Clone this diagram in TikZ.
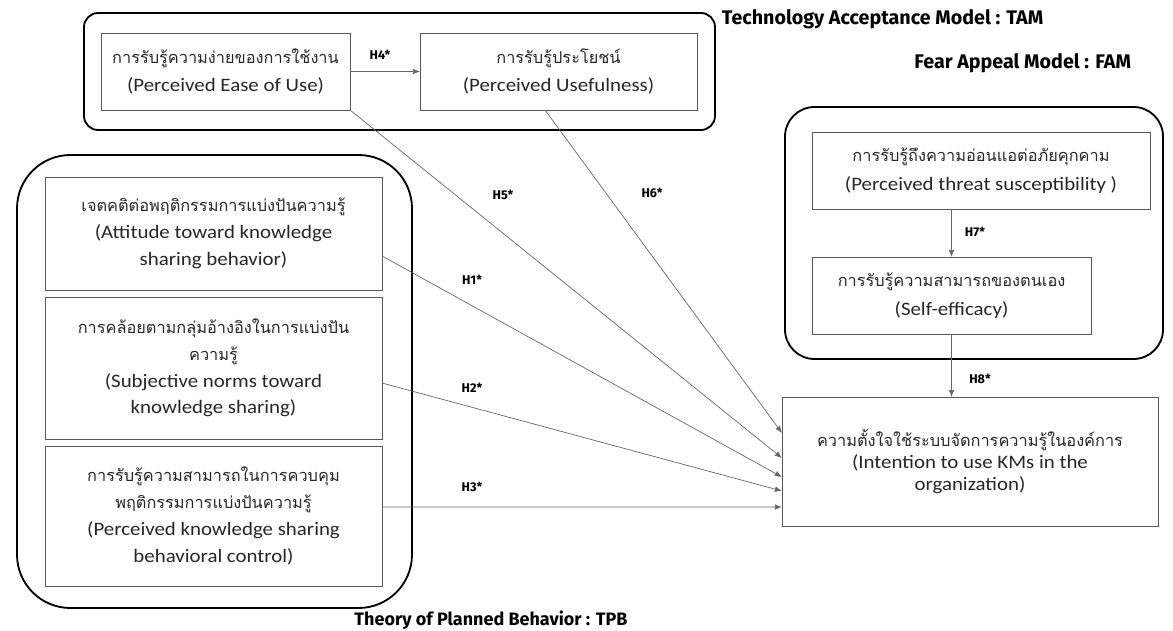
\documentclass[tikz,border=0pt]{standalone}
\usepackage{fontspec}
\setmainfont{Carlito}[FakeStretch=1.1]
\newfontfamily\thaifont[Script=Thai,Scale=0.86]{Loma}
\newfontfamily\labfont{Fira Sans}
\usetikzlibrary{arrows.meta}

\tikzset{
  cbox/.style={draw=black!65, line width=0.6pt, align=center, text=black!85,
    font=\fontsize{13.5}{20.5}\selectfont, inner sep=2pt, outer sep=0pt},
  cframe/.style={draw, line width=1.3pt},
  hlab/.style={font=\labfont\bfseries\fontsize{9}{10}\selectfont},
  mlab/.style={font=\labfont\bfseries\fontsize{14}{16}\selectfont},
  harrow/.style={->, draw=black!60, line width=0.5pt},
  >={Latex[length=5pt,width=4pt]}
}

\begin{document}
\begin{tikzpicture}[x=0.025cm,y=-0.025cm]
\useasboundingbox (0,0) rectangle (1173,631);

% model frames
\path[draw,cframe,rounded corners=10pt] (84,13) rectangle (715,130);
\path[draw,cframe,rounded corners=21pt] (785,107) rectangle (1163,359);
\path[draw,cframe,rounded corners=38pt] (17,155) rectangle (412,608);

\node[mlab,anchor=west] (tam) at (717,19) {Technology Acceptance Model : TAM};
\node[mlab,anchor=east] (fam) at (1136,63) {Fear Appeal Model : FAM};
\node[mlab,font=\labfont\bfseries\fontsize{12.8}{15}\selectfont] (tpb) at (491,620) {Theory of Planned Behavior : TPB};

% constructs
\node[cbox,minimum width=6.225cm,minimum height=1.925cm] (peou) at (225.5,71.5)
  {{\thaifont การรับรู้ความง่ายของการใช้งาน}\\(Perceived Ease of Use)};
\node[cbox,minimum width=6.925cm,minimum height=1.925cm] (pu) at (558.5,71.5)
  {{\thaifont การรับรู้ประโยชน์}\\(Perceived Usefulness)};
\node[cbox,minimum width=8.45cm,minimum height=1.925cm] (pts) at (981,170.5)
  {{\thaifont การรับรู้ถึงความอ่อนแอต่อภัยคุกคาม}\\(Perceived threat susceptibility )};
\node[cbox,minimum width=6.975cm,minimum height=1.925cm] (se) at (951.5,295.5)
  {{\thaifont การรับรู้ความสามารถของตนเอง}\\(Self-efficacy)};
\node[cbox,minimum width=9.4cm,minimum height=3.225cm,font=\fontsize{13.5}{15.5}\selectfont] (intent) at (970,461.5)
  {{\thaifont ความตั้งใจใช้ระบบจัดการความรู้ในองค์การ}\\(Intention to use KMs in the\\organization)};
\node[cbox,minimum width=8.425cm,minimum height=2.825cm,font=\fontsize{13.5}{19}\selectfont] (att) at (213.5,233.5)
  {{\thaifont เจตคติต่อพฤติกรรมการแบ่งปันความรู้}\\(Attitude toward knowledge\\sharing behavior)};
\node[cbox,minimum width=8.425cm,minimum height=3.55cm,font=\fontsize{13.5}{19}\selectfont] (subj) at (213.5,368)
  {{\thaifont การคล้อยตามกลุ่มอ้างอิงในการแบ่งปัน}\\{\thaifont ความรู้}\\(Subjective norms toward\\knowledge sharing)};
\node[cbox,minimum width=8.425cm,minimum height=3.5cm,font=\fontsize{13.5}{19}\selectfont] (pbc) at (213.5,516)
  {{\thaifont การรับรู้ความสามารถในการควบคุม}\\{\thaifont พฤติกรรมการแบ่งปันความรู้}\\(Perceived knowledge sharing\\behavioral control)};

% hypotheses
\draw[harrow] (peou) -- (pu);
\draw[harrow] (se.north |- pts.south) -- (se.north);
\draw[harrow] (se.south) -- (se.south |- intent.north);
\draw[harrow] ([shift={(-13.5,0)}]pu.south) -- ([shift={(0,-28.5)}]intent.west);
\draw[harrow] (peou.south east) -- ([shift={(0,-3.5)}]intent.west);
\draw[harrow] ([shift={(0,22.5)}]att.east) -- ([shift={(0,15.5)}]intent.west);
\draw[harrow] ([shift={(0,15)}]subj.east) -- ([shift={(0,29.5)}]intent.west);
\draw[harrow] ([shift={(0,-9)}]pbc.east) -- ([shift={(0,45.5)}]intent.west);

\node[hlab] (h4) at (380,55) {H4*};
\node[hlab] (h5) at (503,195) {H5*};
\node[hlab] (h6) at (652,193) {H6*};
\node[hlab] (h1) at (472,280) {H1*};
\node[hlab] (h2) at (472,388) {H2*};
\node[hlab] (h3) at (472,487) {H3*};
\node[hlab] (h7) at (975,232) {H7*};
\node[hlab] (h8) at (980,379) {H8*};
\end{tikzpicture}
\end{document}
